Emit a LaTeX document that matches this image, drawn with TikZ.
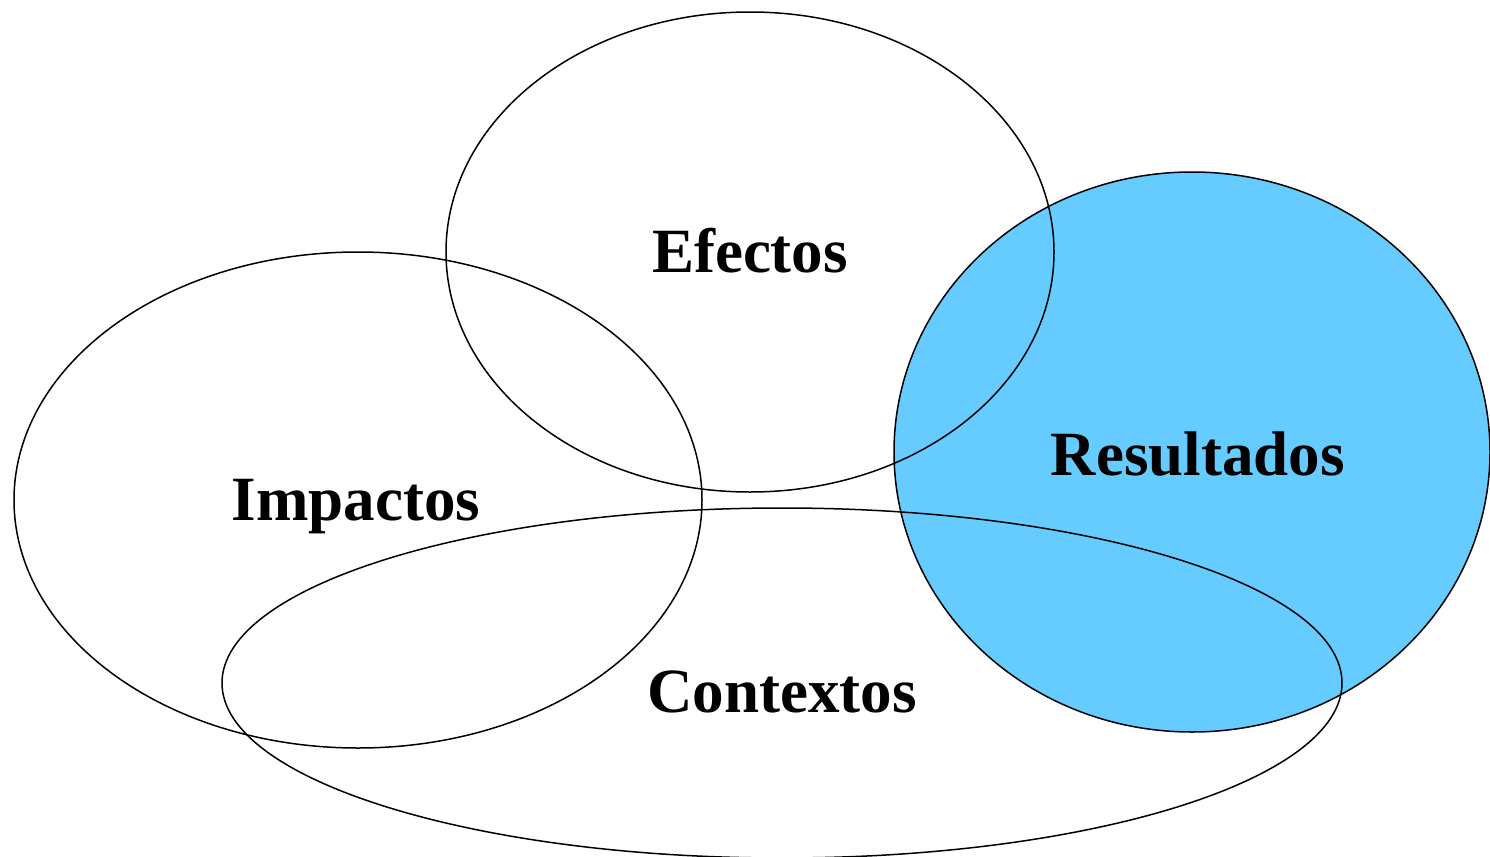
\documentclass[tikz,border=0pt]{standalone}
\usepackage{fontspec}
\setmainfont{Liberation Serif}
\usepackage{xcolor}
\definecolor{resultblue}{HTML}{66CCFF}
\tikzset{
    ring/.style={draw=black, line width=0.75pt},
    label/.style={font=\fontsize{31.5}{36}\selectfont\bfseries, anchor=base, inner sep=0pt}
}

\begin{document}
\begin{tikzpicture}[x=0.5pt, y=-0.5pt]
    \useasboundingbox (0,0) rectangle (1490,857);
    \clip (0,0) rectangle (1490,857);

    % Resultados (filled)
    \fill[resultblue] (1192,452) ellipse [x radius=298, y radius=280];
    \draw[ring] (1192,452) ellipse [x radius=298, y radius=280];

    % Efectos
    \draw[ring] (750,252) ellipse [x radius=304, y radius=240];

    % Impactos
    \draw[ring] (358,500) ellipse [x radius=344, y radius=248];

    % Contextos
    \draw[ring] (782,683) ellipse [x radius=560, y radius=175];

    % Labels
    \node[label] (efectos) at (750,272) {Efectos};
    \node[label] (resultados) at (1198,475) {Resultados};
    \node[label] (impactos) at (356,520) {Impactos};
    \node[label] (contextos) at (782,712) {Contextos};
\end{tikzpicture}
\end{document}
